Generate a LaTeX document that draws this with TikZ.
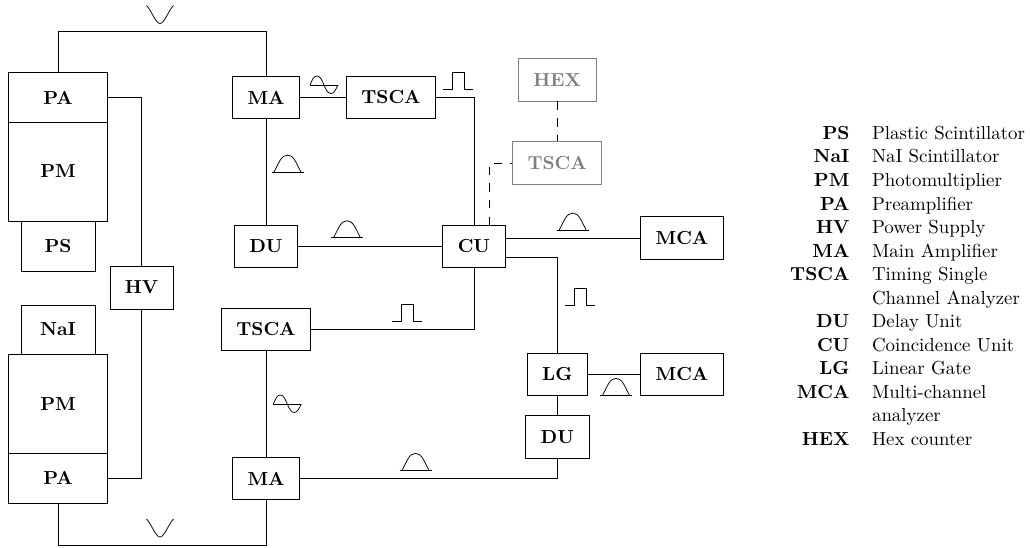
\documentclass[tikz,border=0pt]{standalone}
\usepackage{array}
\tikzset{
  every picture/.style={line width=0.4pt},
  box/.style={draw=#1, text=#1, align=center, inner sep=0pt, font=\bfseries},
  box/.default=black,
  wire/.style={draw=black},
  faded/.style={draw=black, dash pattern=on 4.5pt off 4.3pt},
  pics/unipolar/.style={code={
    \draw (-16,0) -- (16,0);
    \draw (-13.5,0) .. controls (-9,-8) and (-6.5,-17) .. (0,-17) .. controls (6.5,-17) and (9,-8) .. (13.5,0);
  }},
  pics/bipolar/.style={code={
    \draw (-14,0) -- (14,0);
    \draw (-14,0) .. controls (-11.5,-6) and (-10,-9) .. (-7,-9) .. controls (-4,-9) and (-2,-5) .. (0,0)
      .. controls (2,5) and (4,8.5) .. (7,8.5) .. controls (10,8.5) and (11.5,5) .. (14,0);
  }},
  pics/squarepulse/.style={code={
    \draw (-15,0) -- (-6,0) -- (-6,-17) -- (6,-17) -- (6,0) -- (14.5,0);
  }},
  pics/dip/.style={code={
    \draw (-13.5,-9) .. controls (-9,-5) and (-4.5,9) .. (0,9) .. controls (4.5,9) and (9,-5) .. (13.5,-9);
  }},
}

\begin{document}
\begin{tikzpicture}[x=0.53pt, y=-0.53pt]
  \useasboundingbox (0,0) rectangle (1030,547);
  % detector stacks
  \node[box, minimum width=52.2pt, minimum height=26.2pt] (PAa) at (58,97.5) {PA};
  \node[box, minimum width=52.2pt, minimum height=52.5pt] (PMa) at (58,171.5) {PM};
  \node[box, minimum width=39.2pt, minimum height=26.5pt] (PS) at (58,246) {PS};
  \node[box, minimum width=39.2pt, minimum height=26pt] (NaI) at (58,329.5) {NaI};
  \node[box, minimum width=52.2pt, minimum height=52.5pt] (PMb) at (58,404) {PM};
  \node[box, minimum width=52.2pt, minimum height=26.2pt] (PAb) at (58,478.3) {PA};
  \node[box, minimum width=33.4pt, minimum height=22.8pt] (HV) at (141.5,287.5) {HV};
  % electronics
  \node[box, minimum width=35.5pt, minimum height=22.5pt] (MAa) at (266,97.5) {MA};
  \node[box, minimum width=47.2pt, minimum height=22.5pt] (TSCAa) at (391,97.5) {TSCA};
  \node[box, minimum width=33.4pt, minimum height=22.5pt] (DUa) at (266,246.3) {DU};
  \node[box, minimum width=33.2pt, minimum height=22.5pt] (CU) at (474,246.3) {CU};
  \node[box, minimum width=47.2pt, minimum height=22.5pt] (TSCAb) at (266,329.5) {TSCA};
  \node[box, minimum width=35.5pt, minimum height=22.5pt] (MAb) at (266,478.5) {MA};
  \node[box, minimum width=43.8pt, minimum height=22.5pt] (MCAa) at (682,238) {MCA};
  \node[box, minimum width=31.8pt, minimum height=22.5pt] (LG) at (557.3,374.3) {LG};
  \node[box, minimum width=43.8pt, minimum height=22.5pt] (MCAb) at (682,374.3) {MCA};
  \node[box, minimum width=33.6pt, minimum height=22.5pt] (DUb) at (557.3,436.8) {DU};
  \node[box=gray, minimum width=41.2pt, minimum height=22.5pt] (HEX) at (557.2,79.8) {HEX};
  \node[box=gray, minimum width=47.2pt, minimum height=22.5pt] (TSCAc) at (557.2,163) {TSCA};
  \coordinate (topleft) at (58,31);
  \coordinate (botleft) at (58,545);
  \coordinate (dashtop) at (489.3,163);
  \coordinate (dashend) at (489.3,225);
  \draw[wire] (PAa.north) -- (topleft) -| (MAa.north);
  \draw[wire] (PAb.south) -- (botleft) -| (MAb.south);
  \draw[wire] (PAa.east) -| (HV.north);
  \draw[wire] (PAb.east) -| (HV.south);
  \draw[wire] (MAa) -- (TSCAa);
  \draw[wire] (MAa) -- (DUa);
  \draw[wire] (TSCAa.east) -| (CU.north);
  \draw[wire] (DUa) -- (CU);
  \draw[wire] (CU.south) |- (TSCAb.east);
  \draw[wire] (TSCAb) -- (MAb);
  \draw[wire] (CU.east) |- (MCAa.west);
  \draw[wire] (CU.east |- 0,257.3) -| (LG.north);
  \draw[wire] (LG) -- (MCAb);
  \draw[wire] (LG) -- (DUb);
  \draw[wire] (MAb.east) -| (DUb.south);
  \draw[faded] (HEX) -- (TSCAc);
  \draw[faded] (dashend) -- (dashtop) -- (TSCAc.west);
  % pulse shapes
  \pic at (160,14.5) {dip};
  \pic at (160,528) {dip};
  \pic at (287.5,172) {unipolar};
  \pic at (347,237.7) {unipolar};
  \pic at (572.7,230) {unipolar};
  \pic at (616,395.3) {unipolar};
  \pic at (415.5,470.3) {unipolar};
  \pic at (324,85) {bipolar};
  \pic at (287.3,404) {bipolar};
  \pic at (458,89.3) {squarepulse};
  \pic at (580,305) {squarepulse};
  \pic at (407,321) {squarepulse};
  % legend
  \node[anchor=north west, inner sep=0pt] (legend) at (778.5,122.5) {%
    \renewcommand{\arraystretch}{1.04}%
    \begin{tabular}{>{\bfseries}r l}
      PS & Plastic Scintillator\\
      NaI & NaI Scintillator\\
      PM & Photomultiplier\\
      PA & Preamplifier\\
      HV & Power Supply\\
      MA & Main Amplifier\\
      TSCA & Timing Single\\
       & Channel Analyzer\\
      DU & Delay Unit\\
      CU & Coincidence Unit\\
      LG & Linear Gate\\
      MCA & Multi-channel\\
       & analyzer\\
      HEX & Hex counter
    \end{tabular}};
\end{tikzpicture}
\end{document}
